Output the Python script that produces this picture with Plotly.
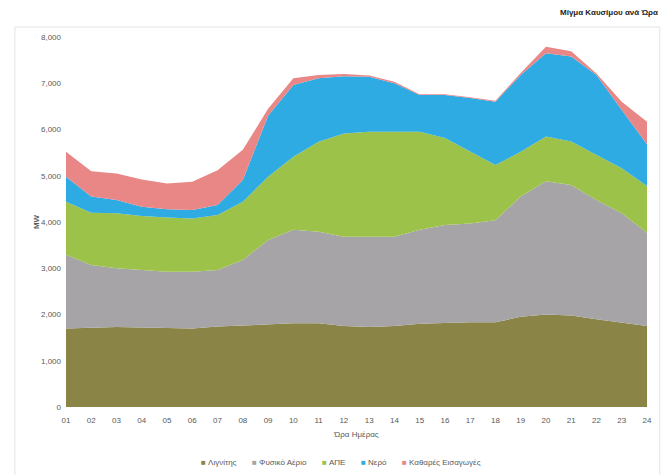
import plotly.graph_objects as go

# ── Data (MW per hour) ────────────────────────────────────────────────────────
hours = list(range(1, 25))
hour_labels = [f"{h:02d}" for h in hours]

lignite = [1700, 1720, 1730, 1720, 1710, 1700, 1740, 1760, 1790, 1810, 1810, 1750,
           1730, 1750, 1800, 1820, 1830, 1830, 1950, 2000, 1980, 1900, 1830, 1750]
natural_gas = [1590, 1350, 1270, 1240, 1215, 1225, 1220, 1420, 1820, 2020, 1980, 1930,
               1950, 1930, 2030, 2115, 2140, 2210, 2600, 2880, 2820, 2575, 2360, 2020]
renewables = [1150, 1130, 1190, 1170, 1175, 1150, 1190, 1260, 1370, 1580, 1945, 2235,
              2270, 2270, 2120, 1880, 1550, 1190, 970, 970, 940, 975, 970, 1010]
hydro = [540, 350, 285, 200, 175, 185, 220, 470, 1320, 1550, 1375, 1235,
         1190, 1050, 795, 930, 1160, 1370, 1660, 1800, 1840, 1730, 1260, 900]
net_imports = [540, 550, 575, 590, 555, 610, 750, 650, 150, 150, 70, 50,
               30, 30, 15, 15, 20, 20, 40, 140, 110, 30, 180, 490]

y_ticks = [0, 1000, 2000, 3000, 4000, 5000, 6000, 7000, 8000]

series = [
    ("Λιγνίτης", lignite, "#8b8447"),
    ("Φυσικό Αέριο", natural_gas, "#a6a4a6"),
    ("ΑΠΕ", renewables, "#9cc24a"),
    ("Νερό", hydro, "#2eabe2"),
    ("Καθαρές Εισαγωγές", net_imports, "#e98686"),
]

FONT = "Liberation Sans, Arial, sans-serif"
TXT = "#595959"

fig = go.Figure()
for name, values, color in series:
    fig.add_trace(go.Scatter(
        x=hours,
        y=values,
        name=name,
        mode="lines",
        stackgroup="mix",
        line=dict(width=0, color=color),
        fillcolor=color,
        showlegend=False,
    ))

# compact Excel-style legend: coloured squares + names in one text line
gap = "&nbsp;" * 7
legend_text = gap.join(
    f'<span style="color:{color}">■</span>&nbsp;{name}' for name, _, color in series
)
fig.add_annotation(
    text=legend_text,
    xref="paper", yref="paper", x=0.473, y=-0.151,
    xanchor="center", yanchor="middle", showarrow=False,
    font=dict(size=8, color=TXT, family=FONT),
)

# light frame around the whole chart
fig.add_shape(
    type="rect", xref="paper", yref="paper",
    x0=-0.088, x1=1.022, y0=-0.25, y1=1.027,
    line=dict(color="#e4e4e4", width=1), fillcolor="rgba(0,0,0,0)",
    layer="below",
)

fig.add_annotation(
    text="<b>Μίγμα Καυσίμου ανά Ώρα</b>",
    xref="paper", yref="paper", x=1.022, y=1.065,
    xanchor="right", yanchor="middle", showarrow=False,
    font=dict(size=8, color="#222222", family=FONT),
)

# sized so the page (with its 8px body margin) fits without scrollbars
fig.update_layout(
    width=662,
    height=467,
    margin=dict(l=58, r=23, t=29, b=68),
    paper_bgcolor="white",
    plot_bgcolor="white",
    showlegend=False,
    font=dict(family=FONT, size=8, color=TXT),
    xaxis=dict(
        range=[1, 24],
        tickvals=hours,
        ticktext=hour_labels,
        showgrid=False,
        zeroline=False,
        showline=False,
        ticks="",
        automargin=False,
        ticklabelstandoff=7,
        tickfont=dict(size=8, color=TXT),
        title=dict(text="Ώρα Ημέρας", font=dict(size=8, color=TXT), standoff=7),
    ),
    yaxis=dict(
        range=[0, 8000],
        tickvals=y_ticks,
        tickformat=",d",
        showgrid=False,
        zeroline=False,
        showline=False,
        ticks="",
        automargin=False,
        ticklabelstandoff=4,
        tickfont=dict(size=8, color=TXT),
        title=dict(text="<b>MW</b>", font=dict(size=8, color=TXT), standoff=0),
    ),
)

fig.write_html("out.html")
